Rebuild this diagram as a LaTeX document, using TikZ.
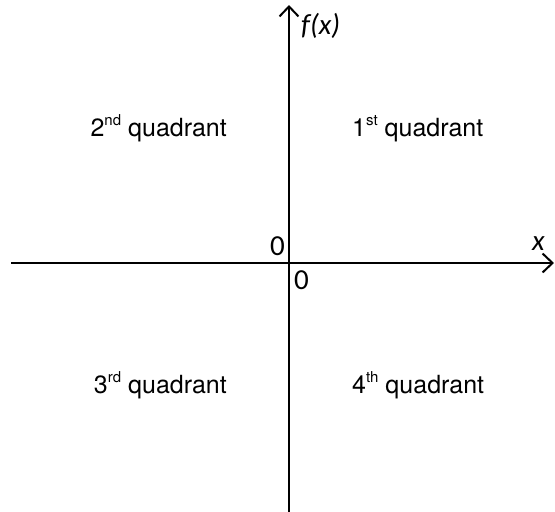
\documentclass[tikz,border=0pt]{standalone}
\usepackage{fontspec}
\setmainfont{TeX Gyre Heros}
\newfontfamily\labfont{Carlito}
\usetikzlibrary{arrows.meta}
\newcommand\supsc[1]{\raisebox{0.42em}{\fontsize{15}{15}\selectfont #1}}
\begin{document}
\begin{tikzpicture}[x=1pt,y=-1pt,
  axis/.style={line width=2pt,-{Straight Barb[length=10pt,width=19pt]}},
  lbl/.style={inner sep=0pt,font=\fontsize{25}{30}\selectfont},
  axlbl/.style={inner sep=0pt,font=\labfont\fontsize{29}{32}\selectfont},
]
\useasboundingbox (0,0) rectangle (555,512);
\coordinate (xs) at (11,263);
\coordinate (xe) at (554,263);
\coordinate (ys) at (289,512);
\coordinate (ye) at (289,5);
\draw[axis] (xs) -- (xe);
\draw[axis] (ys) -- (ye);
\node[lbl,anchor=base east] (q2) at (227,136) {2\supsc{nd} quadrant};
\node[lbl,anchor=base west] (q1) at (352,136) {1\supsc{st} quadrant};
\node[lbl,anchor=base east] (q3) at (227,393) {3\supsc{rd} quadrant};
\node[lbl,anchor=base west] (q4) at (352,393) {4\supsc{th} quadrant};
\node[axlbl,anchor=south east] (o1) at (285,256) {0};
\node[axlbl,anchor=north west] (o2) at (294,270) {0};
\node[axlbl,anchor=base west] (xl) at (532,250) {\itshape x};
\node[axlbl,anchor=base west] (fl) at (301,34) {\itshape f(x)};
\end{tikzpicture}
\end{document}
